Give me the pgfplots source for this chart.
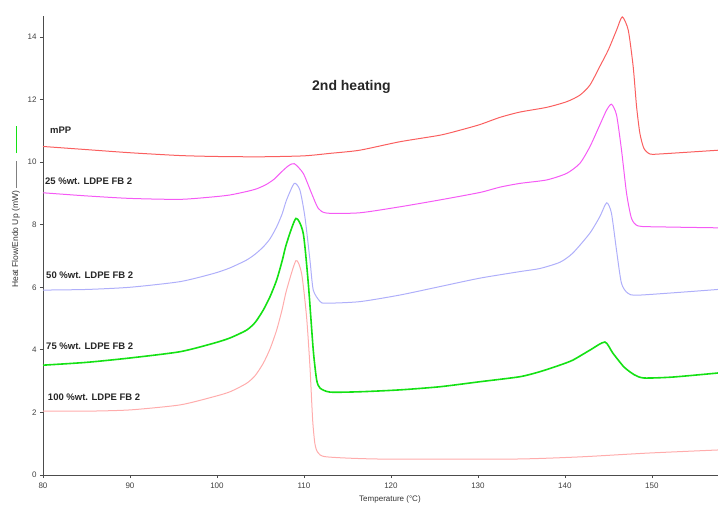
\documentclass[border=0pt]{standalone}
\usepackage{pgfplots}
\pgfplotsset{compat=1.18}
\usepackage{fontspec}
\setmainfont{Liberation Sans}
\definecolor{cmpp}{RGB}{250,95,95}
\definecolor{c25}{RGB}{245,90,245}
\definecolor{c50}{RGB}{175,175,250}
\definecolor{c75}{RGB}{20,225,20}
\definecolor{c100}{RGB}{255,172,172}
\begin{document}
\begin{tikzpicture}
\begin{axis}[
  at={(0,0)}, anchor=south west,
  scale only axis, width=675pt, height=459pt,
  xmin=80, xmax=157.6, ymin=0, ymax=14.67,
  axis x line=bottom, axis y line=left,
  axis line style={-, black!70, line width=0.9pt},
  xtick={80,90,...,150}, ytick={0,2,...,14},
  tick align=outside, major tick length=3pt,
  tick style={black!70, line width=0.7pt},
  tick label style={font=\fontsize{8}{9}\selectfont, text=black!75},
  xticklabel style={yshift=-1.5pt},
  /pgf/number format/assume math mode=true,
  xlabel={Temperature (°C)},
  xlabel style={font=\fontsize{8}{9}\selectfont, text=black!80, at={(axis description cs:0.514,0)}, anchor=north, yshift=-17pt},
  ylabel={Heat Flow/Endo Up (mW)\hspace{3pt}{\color{gray}\rule[0.33ex]{27pt}{0.7pt}}\hspace{8pt}{\color{c75}\rule[0.25ex]{27pt}{1.4pt}}},
  ylabel style={font=\fontsize{8.5}{9}\selectfont, text=black!80, at={(axis description cs:-0.04,0.584)}, anchor=center},
  every axis plot/.append style={smooth, tension=0.4, line width=1pt},
  clip=false,
]
% mPP
\addplot[cmpp] coordinates {
(80,10.50)(85,10.40)(90,10.30)(95.75,10.21)(100,10.18)(105,10.17)(110,10.20)(113,10.28)
(116.4,10.38)(121,10.65)(125.63,10.86)(127.93,11.02)(130.23,11.20)(132.53,11.43)(134.83,11.60)
(137.9,11.75)(140.2,11.93)(141.72,12.14)(142.87,12.46)(144.0,13.05)(144.98,13.58)(145.94,14.22)
(146.59,14.64)(147.28,14.22)(147.85,13.05)(148.24,11.77)(148.62,10.92)(149.08,10.44)(149.77,10.26)
(150.9,10.26)(157.6,10.38)};
% 25
\addplot[c25] coordinates {
(80,9.02)(85,8.92)(90,8.84)(95.75,8.81)(99.6,8.89)(101.5,8.95)(103.4,9.06)(104.6,9.15)(105.7,9.29)(106.6,9.46)(107.24,9.64)
(108.2,9.88)(108.89,9.95)(109.92,9.64)(110.88,9.0)(111.65,8.52)(112.64,8.37)(116.4,8.38)
(121,8.57)(125.6,8.79)(130.23,9.03)(132.53,9.2)(134.83,9.32)(137.9,9.43)(140.2,9.64)
(141.72,9.96)(142.87,10.49)(144.0,11.18)(144.79,11.66)(145.36,11.85)(145.94,11.5)(146.51,10.38)
(147.09,9.0)(147.66,8.2)(148.43,7.96)(150.9,7.93)(157.6,7.9)};
% 50
\addplot[c50] coordinates {
(80,5.91)(85,5.93)(90,6.0)(95.75,6.18)(99.6,6.44)(101.5,6.62)(103.4,6.87)(104.4,7.06)(105.32,7.29)(106.1,7.55)(106.86,7.93)
(107.5,8.35)(108.0,8.79)(108.89,9.32)(109.54,9.1)(110.11,8.25)(110.69,6.87)(111.07,5.91)(111.84,5.55)
(112.5,5.49)(116.4,5.54)(121,5.75)(125.6,6.02)(130.2,6.29)(134.8,6.5)(137.13,6.6)(139.43,6.8)
(140.9,7.09)(142.87,7.73)(144.0,8.25)(144.8,8.70)(145.35,8.37)(145.93,7.19)(146.5,6.13)
(147.24,5.81)(148.6,5.75)(157.6,5.93)};
% 75
\addplot[c75, line width=1.6pt] coordinates {
(80,3.51)(85,3.6)(90,3.74)(95.75,3.94)(99.6,4.21)(101.5,4.38)(103.4,4.63)(104.4,4.88)(105.32,5.27)(106.1,5.7)(106.86,6.23)
(107.5,6.85)(108.0,7.40)(109.08,8.2)(109.92,7.72)(110.5,6.12)(111.07,3.99)(111.46,3.04)(111.84,2.78)
(112.99,2.65)(116.4,2.66)(121,2.72)(125.6,2.82)(130.2,2.98)(134.8,3.14)(137.1,3.3)(139.4,3.51)
(140.9,3.67)(142.87,3.99)(144.6,4.25)(145.5,3.9)(146.8,3.45)(148,3.2)(149.1,3.1)(152.4,3.13)
(157.6,3.26)};
% 100
\addplot[c100] coordinates {
(80,2.04)(85,2.04)(90,2.08)(95.75,2.24)(99.6,2.50)(101.5,2.66)(103.4,2.93)(104.4,3.18)(105.32,3.57)(106.1,4.03)(106.86,4.63)
(107.5,5.3)(108.0,5.91)(109.08,6.85)(109.73,6.44)(110.3,5.06)(110.69,3.46)(111.0,1.76)(111.26,1.0)
(111.6,0.72)(112.6,0.58)(118.8,0.51)(134.2,0.51)(141.8,0.58)(149.5,0.7)(157.6,0.8)};
\begin{scope}[every node/.style={font=\fontsize{9.5}{10}\bfseries, text=black!85, anchor=west, inner sep=0pt}]
\node at (axis cs:80.8,11.02) {mPP};
\node at (axis cs:80.23,9.39) {25 \%wt. LDPE FB 2};
\node at (axis cs:80.35,6.39) {50 \%wt. LDPE FB 2};
\node at (axis cs:80.35,4.12) {75 \%wt. LDPE FB 2};
\node at (axis cs:80.55,2.50) {100 \%wt. LDPE FB 2};
\end{scope}
\node[font=\fontsize{14}{15}\bfseries, text=black!85, inner sep=0pt] at (axis cs:115.46,12.4) {2nd heating};
\end{axis}
\pgfresetboundingbox
\path (-43pt,-29pt) rectangle (675pt,475pt);
\end{tikzpicture}
\end{document}
